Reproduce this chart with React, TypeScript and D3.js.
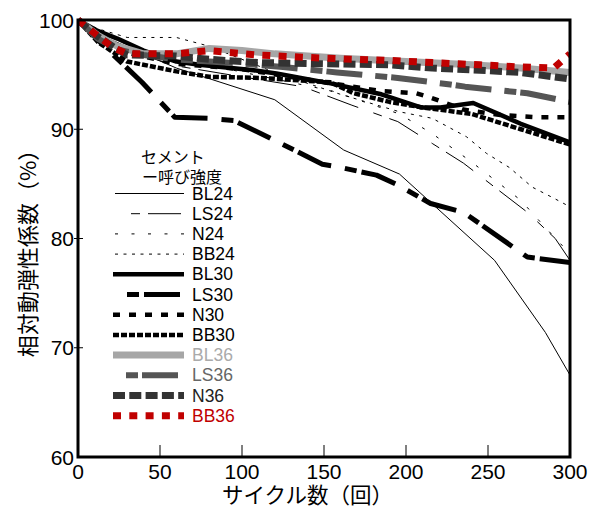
import React from 'react';
import * as d3 from 'd3';

// [cycles, relative dynamic modulus %]
const BL24 = [[0, 100], [20, 98.2], [60, 95.6], [120, 92.7], [162, 88.1], [196, 85.9], [254, 78], [285, 71.4], [300, 67.5]];
const LS24 = [[0, 100], [12, 98.6], [30, 97.2], [60, 95.8], [100, 94.8], [137, 93.9], [167, 92.2], [195, 90.7], [216, 88.7], [235, 86.9], [274, 82.4], [291, 80], [300, 78]];
const N24 = [[0, 100], [12, 98.8], [30, 97.8], [60, 96.5], [120, 94.6], [155, 93.5], [196, 91.4], [216, 89.6], [240, 87], [270, 83.5], [285, 81], [300, 78.6]];
const BB24 = [[0, 100], [12, 99.2], [30, 98.4], [60, 98.4], [80, 97.6], [120, 95.2], [160, 93.2], [196, 91.6], [216, 91.0], [237, 89.3], [249, 87.8], [263, 86.5], [277, 84.7], [290, 83.7], [300, 82.9]];
const BL30 = [[0, 100], [12, 99], [24, 98.3], [40, 97.2], [60, 96.2], [74, 95.9], [107, 95.4], [121, 95.1], [154, 94.2], [185, 93.2], [209, 92.0], [221, 92.0], [241, 92.4], [270, 90.5], [300, 88.8]];
const LS30 = [[0, 100], [18, 97.3], [39, 94.3], [59, 91.1], [79, 91.0], [95, 90.8], [117, 89.2], [149, 86.8], [157, 86.6], [182, 85.8], [195, 84.9], [215, 83.2], [235, 82.4], [274, 78.3], [300, 77.8]];
const N30 = [[0, 100], [12, 98.5], [30, 97], [60, 96], [100, 95.5], [150, 94.3], [185, 93.5], [206, 93.3], [215, 92.9], [235, 91.8], [258, 91.3], [280, 91.1], [300, 91.1]];
const BB30 = [[0, 100], [12, 98], [24, 96.8], [30, 96.2], [60, 95.3], [80, 94.8], [111, 94.7], [154, 94.3], [168, 93.3], [190, 92.5], [210, 92.0], [240, 91.4], [270, 90.0], [300, 88.6]];
const BL36 = [[0, 100], [12, 98.6], [24, 97.6], [40, 96.9], [60, 96.9], [80, 97.4], [100, 97.2], [120, 96.9], [160, 96.5], [200, 96.2], [240, 95.9], [270, 95.6], [300, 95.2]];
const LS36 = [[0, 100], [12, 98.3], [24, 97.3], [40, 96.8], [60, 96.4], [80, 96.2], [100, 96.0], [125, 95.7], [158, 95.2], [195, 94.7], [227, 94.1], [236, 93.9], [274, 93.3], [300, 92.5]];
const N36 = [[0, 100], [12, 98.5], [24, 97.3], [30, 96.8], [60, 96.7], [80, 96.4], [110, 96.1], [150, 96.0], [190, 95.9], [216, 95.6], [245, 95.4], [270, 95.2], [300, 94.6]];
const BB36 = [[0, 100], [10, 98.8], [21, 97.5], [30, 96.9], [60, 96.9], [80, 97.2], [109, 96.8], [150, 96.5], [190, 96.3], [216, 96.1], [245, 95.9], [270, 95.7], [290, 95.6], [300, 96.9]];

const xTicks = [0, 50, 100, 150, 200, 250, 300];
const yTicks = [60, 70, 80, 90, 100];

const series = [
  { name: 'BL24', data: BL24, color: '#000', width: 1, dash: null, label: '#000' },
  { name: 'LS24', data: LS24, color: '#000', width: 1, dash: [33, 16, 9, 8], label: '#000' },
  { name: 'N24', data: N24, color: '#000', width: 1, dash: [3, 13.5], label: '#000' },
  { name: 'BB24', data: BB24, color: '#000', width: 1, dash: [3, 5.5], label: '#000' },
  { name: 'BL30', data: BL30, color: '#000', width: 4.5, dash: null, label: '#000' },
  { name: 'LS30', data: LS30, color: '#000', width: 5, dash: [36, 14, 12, 5], label: '#000' },
  { name: 'N30', data: N30, color: '#000', width: 4.5, dash: [7, 9], label: '#000' },
  { name: 'BB30', data: BB30, color: '#000', width: 4.5, dash: [6, 2], label: '#000' },
  { name: 'BL36', data: BL36, color: '#a6a6a6', width: 7, dash: null, label: '#aaaaaa' },
  { name: 'LS36', data: LS36, color: '#555555', width: 6, dash: [36, 13, 12, 4], label: '#666666' },
  { name: 'N36', data: N36, color: '#333333', width: 7, dash: [12, 4.3], label: '#222' },
  { name: 'BB36', data: BB36, color: '#c00000', width: 7, dash: [8, 8.3], label: '#c00000' },
];

const W = 598;
const H = 509;
const plot = { left: 78, right: 570, top: 20, bottom: 457 };
const sans = "'Liberation Sans', Arial, sans-serif";
const cjk = "'Noto Sans CJK JP', sans-serif";

export default function App() {
  const x = d3.scaleLinear().domain([0, 300]).range([plot.left, plot.right]);
  const y = d3.scaleLinear().domain([60, 100]).range([plot.bottom, plot.top]);
  const line = d3.line<number[]>().x(d => x(d[0])).y(d => y(d[1]));

  const legendX1 = 114;
  const legendX2 = 184;
  const legendY0 = 193.5;
  const legendStep = 20.2;

  return (
    <svg width={W} height={H} style={{ position: 'absolute', left: 0, top: 0, background: '#fff' }}>
      <defs>
        <clipPath id="plotclip">
          <rect x={plot.left} y={plot.top - 4} width={plot.right - plot.left} height={plot.bottom - plot.top + 4} />
        </clipPath>
      </defs>

      {/* series, drawn in legend order so BB36 ends up on top */}
      <g clipPath="url(#plotclip)">
        {series.map(s => (
          <path
            key={s.name}
            d={line(s.data) || ''}
            fill="none"
            stroke={s.color}
            strokeWidth={s.width}
            strokeDasharray={s.dash ? s.dash.join(',') : undefined}
            strokeLinejoin="round"
          />
        ))}
      </g>

      {/* frame */}
      <rect x={plot.left} y={plot.top} width={plot.right - plot.left} height={plot.bottom - plot.top}
        fill="none" stroke="#000" strokeWidth={3} />

      {/* x ticks */}
      {xTicks.map(t => (
        <g key={'x' + t}>
          {t > 0 && t < 300 && <line x1={x(t)} x2={x(t)} y1={plot.bottom} y2={plot.bottom - 12} stroke="#000" strokeWidth={1} />}
          <text x={x(t)} y={479} textAnchor="middle" fontFamily={sans} fontSize={21}>{t}</text>
        </g>
      ))}

      {/* y ticks */}
      {yTicks.map(t => (
        <g key={'y' + t}>
          {t > 60 && t < 100 && <line x1={plot.left - 4} x2={plot.left + 5} y1={y(t)} y2={y(t)} stroke="#000" strokeWidth={1} />}
          <text x={74} y={y(t) + 7.5} textAnchor="end" fontFamily={sans} fontSize={21}>{t}</text>
        </g>
      ))}

      {/* axis titles */}
      <text x={222} y={503} fontFamily={cjk} fontSize={21.5}>サイクル数（回）</text>
      <text transform={`translate(36,248) rotate(-90)`} textAnchor="middle" fontFamily={cjk} fontSize={22}>相対動弾性係数（%）</text>

      {/* legend */}
      <text x={141} y={163} fontFamily={cjk} fontSize={16}>セメント</text>
      <text x={142} y={182.5} fontFamily={cjk} fontSize={16}>ー呼び強度</text>
      {series.map((s, i) => {
        const ly = legendY0 + i * legendStep;
        const offset = s.dash && s.dash.length === 4 ? s.dash[0] : 0;
        return (
          <g key={'lg' + s.name}>
            <line x1={s.width > 2 ? legendX1 - 1 : legendX1 + 1} x2={legendX2} y1={ly} y2={ly}
              stroke={s.color} strokeWidth={s.width}
              strokeDasharray={s.dash ? s.dash.join(',') : undefined}
              strokeDashoffset={offset} />
            <text x={192} y={ly + 6} fontFamily={sans} fontSize={17.5} fill={s.label}>{s.name}</text>
          </g>
        );
      })}
    </svg>
  );
}
